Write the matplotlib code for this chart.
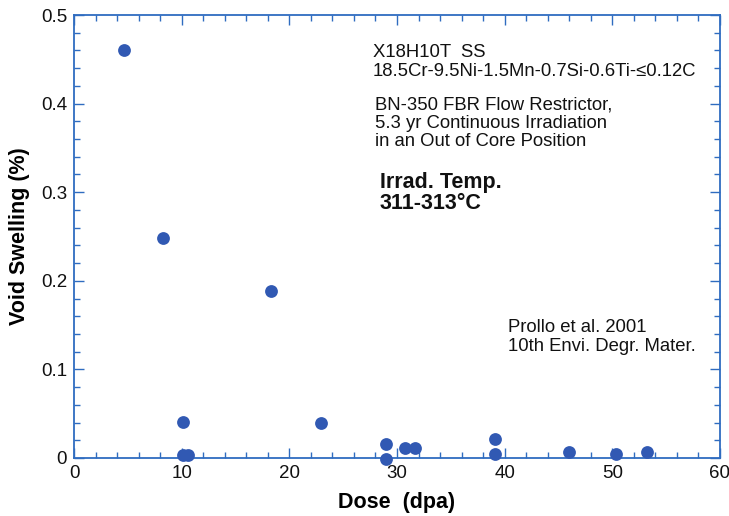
import matplotlib
matplotlib.use("Agg")
import matplotlib.pyplot as plt
from matplotlib.ticker import MultipleLocator

plt.rcParams['font.family'] = ['Liberation Sans', 'DejaVu Sans']

dose = [4.6, 8.25, 18.3, 10.1, 22.9, 10.1, 10.55, 28.95, 28.95, 30.7, 31.7, 39.1, 39.1, 46.0, 50.3, 53.2]
swelling = [0.46, 0.248, 0.188, 0.041, 0.040, 0.0035, 0.0035, 0.0155, -0.001, 0.011, 0.011, 0.021, 0.0045, 0.007, 0.004, 0.007]

xticks = [0, 10, 20, 30, 40, 50, 60]
yticks = [0, 0.1, 0.2, 0.3, 0.4, 0.5]
ytick_labels = ["0", "0.1", "0.2", "0.3", "0.4", "0.5"]

blue = '#2f6cc0'
marker_color = '#3159b3'

fig = plt.figure(figsize=(7.29, 5.16), dpi=100)
ax = fig.add_axes([74/729, 1-458/516, (720-74)/729, (458-15)/516])

ax.scatter(dose, swelling, s=85, color=marker_color, zorder=3, clip_on=False, linewidths=0)

ax.set_xlim(0, 60)
ax.set_ylim(0, 0.5)
ax.set_xticks(xticks)
ax.set_yticks(yticks)
ax.set_yticklabels(ytick_labels)
ax.xaxis.set_minor_locator(MultipleLocator(2))
ax.yaxis.set_minor_locator(MultipleLocator(0.02))

for sp in ax.spines.values():
    sp.set_color(blue)
    sp.set_linewidth(1.3)
ax.tick_params(which='both', direction='in', top=True, right=True, color=blue, width=1.0,
               labelsize=13.5, labelcolor='#111111')
ax.tick_params(which='major', length=7, pad=5)
ax.tick_params(which='minor', length=4)

ax.set_xlabel("Dose  (dpa)", fontsize=15.5, fontweight='bold', labelpad=7)
ax.set_ylabel("Void Swelling (%)", fontsize=15.5, fontweight='bold', labelpad=8)

tf = dict(transform=fig.transFigure, fontsize=13.3, color='#111111', va='top', ha='left', linespacing=1.12)
fig.text(373/729, 1-44/516, "X18H10T  SS\n18.5Cr-9.5Ni-1.5Mn-0.7Si-0.6Ti-\u22640.12C", **tf)
fig.text(375/729, 1-96/516, "BN-350 FBR Flow Restrictor,\n5.3 yr Continuous Irradiation\nin an Out of Core Position", **tf)
fig.text(380/729, 1-172/516, "Irrad. Temp.\n311-313\u00b0C", transform=fig.transFigure, fontsize=15.5,
         fontweight='bold', color='#111111', va='top', ha='left', linespacing=1.02)
fig.text(508/729, 1-319/516, "Prollo et al. 2001\n10th Envi. Degr. Mater.", **tf)

fig.savefig("out.png", dpi=100)
